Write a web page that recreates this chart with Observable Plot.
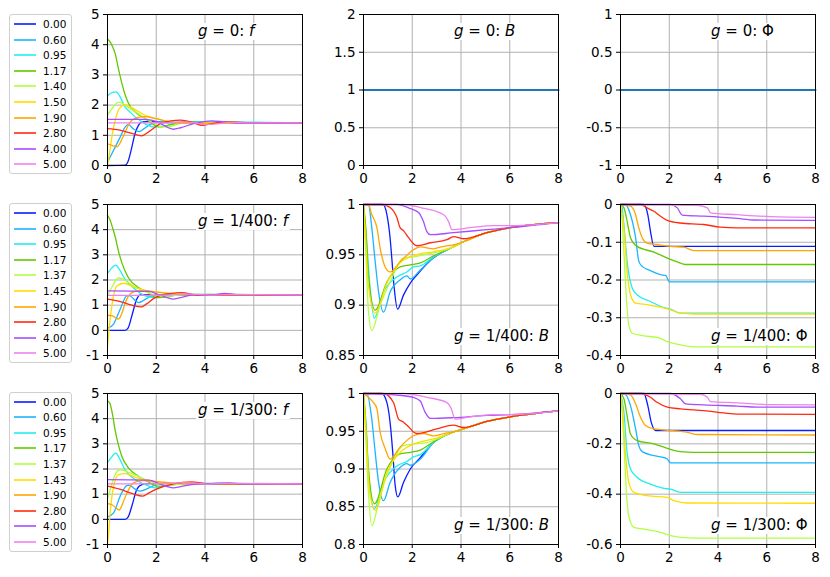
<!DOCTYPE html>
<html><head><meta charset="utf-8">
<script src="https://cdn.jsdelivr.net/npm/d3@7"></script>
<script src="https://cdn.jsdelivr.net/npm/@observablehq/plot@0.6"></script>
<style>
body{margin:0;background:#fff;font-family:"DejaVu Sans",sans-serif;}
#root{position:relative;width:830px;height:577px;overflow:hidden;background:#fff}
.panel{position:absolute}
.title{position:absolute;background:#fff;font-size:15px;line-height:17px;padding:0 2px;white-space:nowrap;color:#000}
.legend{position:absolute;left:9px;width:61px;border:1px solid #cfcfcf;border-radius:3px;background:#fff;font-size:10.5px;color:#000}
.legend .row{position:absolute;left:0;height:14px;width:60px}
.legend svg{position:absolute;left:3px;top:0}
.legend span{position:absolute;left:33px;top:0;line-height:14px}
</style></head><body><div id="root"></div><script>
// ---------- data ----------
const colors = ["#0a1cff","#1ab4ff","#22eeee","#62c800","#b0ff40","#ffdd00","#ffa500","#ff2a10","#a64dff","#ee82ee"];
const labelsG0   = ["0.00","0.60","0.95","1.17","1.40","1.50","1.90","2.80","4.00","5.00"];
const labelsG400 = ["0.00","0.60","0.95","1.17","1.37","1.45","1.90","2.80","4.00","5.00"];
const labelsG300 = ["0.00","0.60","0.95","1.17","1.37","1.43","1.90","2.80","4.00","5.00"];
const gLabels = ["0","1/400","1/300"];
const xTicks = [0,2,4,6,8];
const yTicksF0 = [0,1,2,3,4,5];
const yTicksB0 = [0,0.5,1,1.5,2];
const yTicksPhi0 = [-1,-0.5,0,0.5,1];
const yTicksF = [-1,0,1,2,3,4,5];
const yTicksB400 = [0.85,0.9,0.95,1];
const yTicksPhi400 = [-0.4,-0.3,-0.2,-0.1,0];
const yTicksB300 = [0.8,0.85,0.9,0.95,1];
const yTicksPhi300 = [-0.6,-0.4,-0.2,0];

// g = 0
const fG0 = [
 [[0,0],[0.72,0.01],[0.85,0.15],[1.0,0.61],[1.13,1.06],[1.27,1.33],[1.4,1.44],[1.8,1.46],[2.5,1.42],[8,1.41]],
 [[0,0.11],[0.31,0.6],[0.52,0.94],[0.72,1.27],[0.86,1.36],[1.05,1.22],[1.3,1.12],[1.5,1.22],[1.75,1.36],[2.2,1.45],[3,1.42],[8,1.41]],
 [[0,2.31],[0.15,2.4],[0.35,2.44],[0.5,2.3],[0.72,1.94],[0.95,1.75],[1.13,1.61],[1.35,1.48],[1.54,1.38],[1.9,1.28],[2.3,1.3],[2.8,1.4],[3.5,1.45],[8,1.41]],
 [[0,4.19],[0.1,4.1],[0.2,3.95],[0.31,3.72],[0.45,3.2],[0.59,2.72],[0.72,2.35],[0.86,2.06],[1.13,1.78],[1.54,1.56],[1.95,1.33],[2.2,1.28],[2.6,1.35],[3.2,1.45],[4,1.42],[8,1.41]],
 [[0,1.67],[0.2,1.9],[0.35,2.05],[0.5,2.1],[0.7,2.02],[0.9,1.9],[1.2,1.75],[1.5,1.58],[1.9,1.4],[2.2,1.28],[2.6,1.3],[3.2,1.42],[8,1.41]],
 [[0,0],[0.1,0.5],[0.2,1.05],[0.35,1.6],[0.5,1.9],[0.7,2.0],[0.9,1.95],[1.2,1.82],[1.5,1.68],[2.0,1.55],[2.5,1.45],[3,1.4],[8,1.41]],
 [[0,0.72],[0.2,0.66],[0.4,0.62],[0.55,0.8],[0.72,1.1],[0.9,1.4],[1.1,1.55],[1.5,1.62],[2.0,1.55],[2.5,1.45],[3,1.4],[8,1.41]],
 [[0,1.22],[0.5,1.17],[1.0,1.06],[1.4,0.98],[1.7,1.12],[2.2,1.4],[2.6,1.48],[3.0,1.5],[3.45,1.44],[3.9,1.33],[4.5,1.42],[5,1.44],[6,1.41],[8,1.41]],
 [[0,1.53],[1.5,1.53],[1.8,1.5],[2.2,1.38],[2.5,1.25],[2.7,1.2],[3.0,1.25],[3.5,1.38],[4.3,1.48],[4.8,1.44],[5.5,1.4],[8,1.41]],
 [[0,1.41],[2.5,1.41],[3.0,1.44],[3.5,1.42],[4.0,1.36],[4.5,1.38],[5.0,1.43],[6,1.41],[8,1.41]]
];
const bG0 = [[0,1],[8,1]];
const phiG0 = [[0,0],[8,0]];

// g = 1/400
const fG400 = [
 [[0,0],[0.72,0],[0.85,0.1],[1.0,0.58],[1.2,1.24],[1.34,1.41],[1.6,1.42],[8,1.41]],
 [[0,0.08],[0.25,0.25],[0.52,0.84],[0.79,1.37],[0.9,1.38],[1.1,1.22],[1.27,1.1],[1.5,1.2],[1.82,1.37],[2.3,1.43],[8,1.41]],
 [[0,2.26],[0.15,2.45],[0.34,2.59],[0.5,2.4],[0.72,2.03],[1.13,1.63],[1.55,1.37],[1.95,1.3],[2.5,1.38],[3,1.42],[8,1.41]],
 [[0,4.57],[0.1,4.4],[0.2,4.1],[0.31,3.74],[0.45,3.15],[0.59,2.68],[0.86,2.09],[1.27,1.7],[1.68,1.5],[2.0,1.3],[2.4,1.33],[3,1.42],[8,1.41]],
 [[0,1.37],[0.2,1.75],[0.45,2.09],[0.7,2.0],[1.0,1.8],[1.4,1.6],[1.8,1.45],[2.2,1.35],[2.7,1.38],[3.2,1.43],[8,1.41]],
 [[0,-0.67],[0.08,0.2],[0.18,0.97],[0.38,1.76],[0.66,1.87],[1.13,1.7],[1.68,1.57],[2.23,1.5],[2.8,1.45],[3.5,1.42],[8,1.41]],
 [[0,0.6],[0.2,0.57],[0.45,0.45],[0.6,0.7],[0.73,1.1],[1.0,1.5],[1.27,1.57],[1.8,1.55],[2.4,1.48],[3,1.42],[8,1.41]],
 [[0,1.24],[0.6,1.12],[1.0,1.0],[1.4,0.93],[1.6,1.05],[1.95,1.3],[2.6,1.47],[3.05,1.5],[3.7,1.39],[4.2,1.4],[8,1.41]],
 [[0,1.57],[1.7,1.55],[2.1,1.42],[2.45,1.3],[2.7,1.24],[3.0,1.3],[3.6,1.42],[4.3,1.4],[4.8,1.47],[5.3,1.42],[8,1.41]],
 [[0,1.39],[2.5,1.4],[3.1,1.45],[3.6,1.43],[4.2,1.4],[5.0,1.42],[8,1.41]]
];
const bG400 = [
 [[0,1],[0.8,1],[0.96,0.99],[1.09,0.967],[1.16,0.947],[1.26,0.917],[1.4,0.896],[1.64,0.91],[1.92,0.922],[2.19,0.93],[2.87,0.947],[3.69,0.958],[4.1,0.963],[5.06,0.972],[6.02,0.977],[8,0.982]],
 [[0,1],[0.2,1],[0.34,0.977],[0.48,0.943],[0.62,0.913],[0.82,0.893],[1.09,0.913],[1.5,0.925],[1.78,0.929],[1.92,0.926],[2.33,0.935],[2.87,0.947],[3.69,0.958],[4.1,0.963],[5.06,0.972],[6.02,0.977],[8,0.982]],
 [[0,1],[0.14,0.96],[0.27,0.917],[0.44,0.887],[0.82,0.913],[1.37,0.928],[1.78,0.933],[2.05,0.938],[2.33,0.939],[2.87,0.948],[3.69,0.958],[4.1,0.963],[5.06,0.972],[6.02,0.977],[8,0.982]],
 [[0,1],[0.1,0.975],[0.2,0.93],[0.48,0.895],[0.96,0.923],[1.5,0.938],[1.92,0.94],[2.33,0.942],[2.87,0.949],[3.69,0.958],[4.1,0.963],[5.06,0.972],[6.02,0.977],[8,0.982]],
 [[0,1],[0.1,0.95],[0.2,0.895],[0.34,0.875],[0.68,0.9],[1.09,0.923],[1.64,0.947],[2.05,0.948],[2.46,0.95],[2.87,0.952],[3.69,0.958],[4.1,0.963],[5.06,0.972],[6.02,0.977],[8,0.982]],
 [[0,1],[0.1,0.96],[0.2,0.92],[0.48,0.892],[0.96,0.922],[1.5,0.942],[1.92,0.948],[2.33,0.951],[2.87,0.953],[3.69,0.958],[4.1,0.963],[5.06,0.972],[6.02,0.977],[8,0.982]],
 [[0,1],[0.2,1],[0.34,0.99],[0.55,0.977],[0.68,0.957],[0.89,0.938],[1.09,0.933],[1.5,0.943],[2.05,0.955],[2.33,0.958],[2.87,0.956],[3.2,0.958],[3.69,0.96],[4.1,0.963],[5.06,0.972],[6.02,0.977],[8,0.982]],
 [[0,1],[0.75,1],[1.09,0.997],[1.37,0.987],[1.5,0.977],[1.64,0.974],[1.85,0.967],[2.05,0.961],[2.19,0.959],[2.74,0.962],[3.42,0.965],[3.69,0.968],[4.1,0.966],[5.06,0.972],[6.02,0.977],[8,0.982]],
 [[0,1],[1.37,1],[1.92,0.996],[2.26,0.992],[2.46,0.983],[2.6,0.973],[2.74,0.97],[3.69,0.972],[5.06,0.975],[6.02,0.977],[8,0.982]],
 [[0,1],[1.64,1],[2.33,0.997],[3.28,0.99],[3.49,0.983],[3.63,0.975],[4.38,0.977],[5.34,0.979],[6.16,0.979],[8,0.982]]
];
const phiG400 = [
 [[0,0],[0.96,0],[1.12,-0.027],[1.23,-0.071],[1.37,-0.111],[8,-0.111]],
 [[0,0],[0.2,0],[0.41,-0.027],[0.62,-0.088],[0.75,-0.15],[0.89,-0.164],[1.23,-0.175],[1.64,-0.186],[1.85,-0.188],[2.01,-0.205],[8,-0.205]],
 [[0,0],[0.07,-0.01],[0.14,-0.053],[0.27,-0.15],[0.48,-0.221],[0.68,-0.239],[1.23,-0.257],[1.78,-0.273],[2.05,-0.277],[2.46,-0.288],[8,-0.288]],
 [[0,0],[0.14,-0.009],[0.27,-0.044],[0.41,-0.088],[0.68,-0.111],[1.37,-0.126],[1.92,-0.142],[2.33,-0.152],[2.67,-0.159],[8,-0.159]],
 [[0,0],[0.07,-0.044],[0.16,-0.15],[0.25,-0.257],[0.34,-0.319],[0.48,-0.341],[0.96,-0.348],[1.5,-0.352],[1.92,-0.363],[2.46,-0.372],[3.0,-0.377],[8,-0.377]],
 [[0,0],[0.14,-0.062],[0.27,-0.177],[0.41,-0.239],[0.62,-0.261],[1.09,-0.265],[1.78,-0.274],[2.05,-0.279],[2.46,-0.288],[3.0,-0.29],[8,-0.29]],
 [[0,0],[0.41,-0.004],[0.62,-0.027],[0.75,-0.062],[0.89,-0.088],[1.09,-0.102],[1.5,-0.106],[2.05,-0.111],[2.6,-0.113],[3.0,-0.122],[8,-0.122]],
 [[0,0],[0.82,0],[1.09,-0.009],[1.37,-0.018],[1.64,-0.031],[1.92,-0.042],[2.46,-0.049],[3.42,-0.053],[4.1,-0.06],[4.79,-0.062],[8,-0.062]],
 [[0,0],[2.05,0],[2.33,-0.009],[2.53,-0.028],[3.42,-0.031],[4.79,-0.037],[5.47,-0.041],[8,-0.042]],
 [[0,0],[3.15,-0.002],[3.56,-0.009],[3.69,-0.022],[4.79,-0.027],[6.16,-0.032],[8,-0.034]]
];

// g = 1/300
const fG300 = [
 [[0,0],[0.72,0],[0.85,0.1],[1.0,0.53],[1.2,1.18],[1.41,1.38],[1.7,1.42],[8,1.41]],
 [[0,0.1],[0.25,0.26],[0.52,0.92],[0.79,1.34],[0.9,1.36],[1.1,1.22],[1.34,1.12],[1.6,1.2],[1.89,1.34],[2.3,1.43],[8,1.41]],
 [[0,2.26],[0.15,2.45],[0.34,2.63],[0.5,2.4],[0.72,1.97],[1.13,1.58],[1.55,1.38],[1.95,1.25],[2.5,1.36],[3,1.42],[8,1.41]],
 [[0,4.71],[0.1,4.6],[0.2,4.2],[0.31,3.55],[0.45,2.95],[0.59,2.5],[0.86,2.04],[1.27,1.71],[1.68,1.49],[2.0,1.32],[2.4,1.33],[3,1.42],[8,1.41]],
 [[0,0.82],[0.15,1.3],[0.3,1.75],[0.52,1.97],[0.8,1.9],[1.1,1.78],[1.5,1.6],[1.9,1.45],[2.3,1.35],[2.8,1.38],[3.3,1.43],[8,1.41]],
 [[0,-1.0],[0.05,-0.5],[0.11,0.26],[0.25,1.3],[0.45,1.78],[0.72,1.82],[1.2,1.65],[1.55,1.58],[2.23,1.45],[2.8,1.42],[8,1.41]],
 [[0,0.62],[0.2,0.57],[0.48,0.37],[0.65,0.7],[0.8,1.05],[1.07,1.45],[1.41,1.54],[2.0,1.5],[2.6,1.45],[3,1.42],[8,1.41]],
 [[0,1.32],[0.5,1.2],[1.0,1.03],[1.45,0.92],[1.7,1.05],[1.96,1.18],[2.7,1.41],[3.46,1.49],[4.0,1.42],[4.5,1.41],[8,1.41]],
 [[0,1.58],[1.7,1.56],[2.1,1.42],[2.45,1.3],[2.7,1.25],[3.0,1.3],[3.6,1.4],[4.3,1.42],[5.0,1.45],[5.5,1.41],[8,1.41]],
 [[0,1.41],[2.5,1.42],[3.1,1.46],[3.6,1.44],[4.2,1.4],[5.0,1.43],[8,1.41]]
];
const bG300 = [
 [[0,1],[0.75,1],[0.96,0.988],[1.09,0.962],[1.2,0.922],[1.3,0.878],[1.41,0.863],[1.64,0.882],[1.92,0.9],[2.33,0.915],[2.87,0.935],[3.69,0.949],[4.1,0.953],[5.06,0.963],[6.02,0.969],[8,0.977]],
 [[0,1],[0.14,1],[0.34,0.966],[0.48,0.922],[0.62,0.882],[0.82,0.858],[1.09,0.882],[1.5,0.902],[1.78,0.907],[1.92,0.905],[2.33,0.913],[2.87,0.935],[3.69,0.949],[4.1,0.953],[5.06,0.963],[6.02,0.969],[8,0.977]],
 [[0,1],[0.1,0.96],[0.2,0.9],[0.44,0.847],[0.82,0.882],[1.37,0.904],[1.78,0.91],[2.05,0.916],[2.33,0.919],[2.87,0.935],[3.69,0.949],[4.1,0.953],[5.06,0.963],[6.02,0.969],[8,0.977]],
 [[0,1],[0.1,0.96],[0.2,0.9],[0.45,0.854],[0.96,0.9],[1.5,0.92],[1.92,0.922],[2.33,0.925],[2.87,0.936],[3.69,0.949],[4.1,0.953],[5.06,0.963],[6.02,0.969],[8,0.977]],
 [[0,1],[0.08,0.95],[0.2,0.87],[0.34,0.825],[0.68,0.865],[1.09,0.902],[1.64,0.931],[2.05,0.933],[2.6,0.935],[2.87,0.938],[3.69,0.949],[4.1,0.953],[5.06,0.963],[6.02,0.969],[8,0.977]],
 [[0,1],[0.1,0.95],[0.25,0.87],[0.48,0.845],[0.96,0.896],[1.5,0.922],[2.05,0.933],[2.6,0.938],[3.0,0.941],[3.69,0.949],[4.1,0.953],[5.06,0.963],[6.02,0.969],[8,0.977]],
 [[0,1],[0.2,0.995],[0.41,0.988],[0.55,0.98],[0.68,0.949],[0.89,0.927],[1.09,0.913],[1.5,0.929],[2.05,0.944],[2.46,0.947],[2.87,0.944],[3.3,0.947],[3.69,0.949],[4.1,0.953],[5.06,0.963],[6.02,0.969],[8,0.977]],
 [[0,1],[0.82,1],[1.23,0.988],[1.44,0.966],[1.64,0.962],[1.85,0.956],[2.05,0.949],[2.19,0.947],[3.0,0.953],[3.69,0.958],[4.1,0.955],[5.06,0.963],[6.02,0.969],[8,0.977]],
 [[0,1],[1.37,0.998],[2.05,0.995],[2.33,0.99],[2.53,0.975],[2.74,0.967],[3.69,0.968],[5.06,0.971],[6.02,0.972],[8,0.977]],
 [[0,1],[1.64,1],[2.6,0.995],[3.42,0.988],[3.6,0.98],[3.76,0.966],[4.38,0.969],[5.34,0.972],[6.02,0.972],[8,0.977]]
];
const phiG300 = [
 [[0,0],[0.96,0],[1.12,-0.048],[1.26,-0.114],[1.44,-0.147],[8,-0.147]],
 [[0,0],[0.2,-0.004],[0.41,-0.048],[0.62,-0.141],[0.75,-0.207],[0.89,-0.231],[1.37,-0.247],[1.71,-0.253],[1.92,-0.26],[2.05,-0.276],[8,-0.276]],
 [[0,0],[0.14,-0.074],[0.27,-0.234],[0.41,-0.3],[0.68,-0.333],[1.23,-0.36],[1.78,-0.377],[2.05,-0.38],[2.46,-0.393],[8,-0.393]],
 [[0,0],[0.14,-0.021],[0.27,-0.088],[0.41,-0.161],[0.68,-0.187],[1.37,-0.2],[1.92,-0.218],[2.46,-0.231],[3.0,-0.234],[8,-0.234]],
 [[0,0],[0.07,-0.074],[0.16,-0.234],[0.25,-0.406],[0.34,-0.486],[0.55,-0.532],[0.96,-0.539],[1.64,-0.552],[2.05,-0.565],[2.46,-0.572],[3.15,-0.575],[8,-0.575]],
 [[0,0],[0.07,-0.048],[0.2,-0.234],[0.34,-0.353],[0.55,-0.393],[1.09,-0.406],[1.92,-0.413],[2.19,-0.426],[2.74,-0.435],[8,-0.436]],
 [[0,0],[0.41,-0.005],[0.62,-0.041],[0.82,-0.094],[1.03,-0.127],[1.37,-0.141],[2.05,-0.147],[2.74,-0.154],[3.15,-0.163],[8,-0.165]],
 [[0,0],[0.82,0],[1.23,-0.015],[1.5,-0.035],[1.92,-0.054],[2.46,-0.061],[3.42,-0.068],[4.24,-0.077],[4.79,-0.082],[8,-0.083]],
 [[0,0],[2.05,0],[2.46,-0.021],[2.67,-0.041],[3.42,-0.045],[4.79,-0.05],[5.61,-0.054],[8,-0.054]],
 [[0,0],[3.28,-0.003],[3.56,-0.015],[3.69,-0.032],[4.79,-0.037],[6.16,-0.044],[8,-0.045]]
];

// ---------- layout ----------
const root = document.getElementById("root");
const ML = 42, MR = 8, MT = 8, MB = 26, FW = 195, FH = 151;
const colLeft = [107, 363, 620], rowTop = [14, 204, 393];
const fmt = d => String(Math.round(d * 100) / 100);
const toRows = series => series.flatMap((pts, k) => pts.map(([t, v]) => ({t, v, k})));

function panel(r, c, yDomain, yTicks, lineMarks, varName, varItalic, titleAtBottom) {
  const svg = Plot.plot({
    width: ML + FW + MR, height: MT + FH + MB,
    marginLeft: ML, marginRight: MR, marginTop: MT, marginBottom: MB,
    x: {domain: [0, 8]},
    y: {domain: yDomain},
    color: {type: "ordinal", domain: d3.range(10), range: colors},
    style: {fontSize: "13.5px", fontFamily: "DejaVu Sans", color: "#000", background: "transparent", overflow: "visible"},
    marks: [
      Plot.gridX(xTicks, {stroke: "#b0b0b0", strokeOpacity: 1, strokeWidth: 1}),
      Plot.gridY(yTicks, {stroke: "#b0b0b0", strokeOpacity: 1, strokeWidth: 1}),
      ...lineMarks,
      Plot.frame({stroke: "#000", strokeWidth: 1}),
      Plot.axisX(xTicks, {tickSize: 4, tickPadding: 4, tickFormat: fmt, label: null}),
      Plot.axisY(yTicks, {tickSize: 4, tickPadding: 4, tickFormat: fmt, label: null})
    ]
  });
  const div = document.createElement("div");
  div.className = "panel";
  div.style.left = (colLeft[c] - ML) + "px";
  div.style.top = (rowTop[r] - MT) + "px";
  div.appendChild(svg);
  root.appendChild(div);

  const t = document.createElement("div");
  t.className = "title";
  t.innerHTML = `<i>g</i> = ${gLabels[r]}: ` + (varItalic ? `<i>${varName}</i>` : varName);
  t.style.left = (colLeft[c] + 89) + "px";
  const cy = titleAtBottom ? rowTop[r] + FH - 18.5 : rowTop[r] + 17;
  t.style.top = (cy - 8.5) + "px";
  root.appendChild(t);
}

const multi = series => [Plot.line(toRows(series), {x: "t", y: "v", z: "k", stroke: "k", strokeWidth: 1.3, curve: "monotone-x"})];
const single = pts => [Plot.line(pts, {x: d => d[0], y: d => d[1], stroke: "#1f77b4", strokeWidth: 2})];

panel(0, 0, [0, 5], yTicksF0, multi(fG0), "f", true, false);
panel(0, 1, [0, 2], yTicksB0, single(bG0), "B", true, false);
panel(0, 2, [-1, 1], yTicksPhi0, single(phiG0), "Φ", false, false);
panel(1, 0, [-1, 5], yTicksF, multi(fG400), "f", true, false);
panel(1, 1, [0.85, 1], yTicksB400, multi(bG400), "B", true, true);
panel(1, 2, [-0.4, 0], yTicksPhi400, multi(phiG400), "Φ", false, true);
panel(2, 0, [-1, 5], yTicksF, multi(fG300), "f", true, false);
panel(2, 1, [0.8, 1], yTicksB300, multi(bG300), "B", true, true);
panel(2, 2, [-0.6, 0], yTicksPhi300, multi(phiG300), "Φ", false, true);

// ---------- legends ----------
function legend(labels, boxTop, boxHeight, firstY) {
  const box = document.createElement("div");
  box.className = "legend";
  box.style.top = boxTop + "px";
  box.style.height = boxHeight + "px";
  labels.forEach((lab, i) => {
    const row = document.createElement("div");
    row.className = "row";
    row.style.top = (firstY - boxTop - 7 + i * 15.6) + "px";
    row.innerHTML = `<svg width="24" height="14"><line x1="1" x2="23" y1="7" y2="7" stroke="${colors[i]}" stroke-width="1.6"/></svg><span>${lab}</span>`;
    box.appendChild(row);
  });
  root.appendChild(box);
}
legend(labelsG0, 14, 158, 23);
legend(labelsG400, 203, 158, 212);
legend(labelsG300, 392, 158, 400.5);
</script></body></html>
